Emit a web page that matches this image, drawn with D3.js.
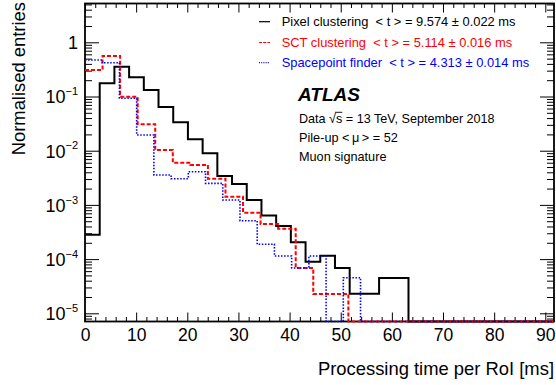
<!DOCTYPE html>
<html>
<head>
<meta charset="utf-8">
<script src="https://cdn.jsdelivr.net/npm/d3@7"></script>
<style>
  html, body { margin: 0; padding: 0; background: #fff; }
  svg text { font-family: "Liberation Sans", Arial, Helvetica, sans-serif; }
</style>
</head>
<body>
<div id="chart"></div>
<script>
// ---------------- data ----------------
const seriesNames = ["Pixel clustering", "SCT clustering", "Spacepoint finder"];
const seriesStats = ["< t > = 9.574 \u00B1 0.022 ms", "< t > = 5.114 \u00B1 0.016 ms", "< t > = 4.313 \u00B1 0.014 ms"];
const seriesColors = ["#000000", "#ff0000", "#0000ff"];
const seriesDash = [null, "4,2", "1.5,1.6"];
// bin widths in ms (each histogram has its own binning)
const binWidths = [2.875, 3.433, 3.367];
// normalised entries per bin, starting at 0 ms
const pixelValues = [2.8e-4, 0.175, 0.355, 0.226, 0.132, 0.064, 0.0334, 0.0162, 0.00895, 0.0034,
                     0.00243, 0.00123, 6.4e-4, 4.1e-4, 2.04e-4, 8.95e-5, 1.15e-4, 6.85e-5, 2.3e-5, 2.3e-5,
                     4.5e-5, 4.5e-5];
const sctValues = [0.308, 0.559, 0.099, 0.0307, 0.0103, 0.0060, 0.00545, 0.00304, 0.00142, 7.2e-4,
                   4.44e-4, 3.64e-4, 6.85e-5, 2.27e-5, 2.27e-5];
const spacepointValues = [0.471, 0.42, 0.0927, 0.0195, 0.00356, 0.00304, 0.0041, 0.0025, 0.00123, 5.1e-4,
                          1.88e-4, 1.14e-4, 6.85e-5, 1.14e-4, 0, 4.54e-5];
const xTickValues = [0, 10, 20, 30, 40, 50, 60, 70, 80, 90];
const yTickExponents = [-5, -4, -3, -2, -1, 0];
const xDomain = [0, 91.7];
const yDomain = [7.06e-6, 5.2];
const xTitle = "Processing time per RoI [ms]";
const yTitle = "Normalised entries";
const dataLine = "Data \u221As = 13 TeV, September 2018";
const infoLines = ["Pile-up <\u2009\u03BC\u2009> = 52", "Muon signature"];

// ---------------- layout ----------------
const W = 556, H = 385;
const L = 85, R = 554, T = 3.5, B = 321.5;
const font = '"Liberation Sans", Arial, Helvetica, sans-serif';

const svg = d3.select("#chart").append("svg").attr("width", W).attr("height", H);

const x = d3.scaleLinear().domain(xDomain).range([L, R]);
const y = d3.scaleLog().domain(yDomain).range([B, T]);

// ---------------- axes ----------------
const xMinor = d3.range(0, xDomain[1], 2).filter(v => v % 10 !== 0);
const yMajor = yTickExponents.map(e => Math.pow(10, e));
const yMinor = [];
for (let e = -6; e <= 0; e++) for (let k = 2; k <= 9; k++) {
  const v = k * Math.pow(10, e);
  if (v > yDomain[0] && v < yDomain[1]) yMinor.push(v);
}

function clean(g) { g.select(".domain").remove(); g.selectAll("line").attr("stroke", "#000").attr("stroke-width", 1); }

// bottom
svg.append("g").attr("transform", `translate(0,${B})`)
  .call(d3.axisBottom(x).tickValues(xTickValues).tickSize(-9).tickPadding(7).tickSizeOuter(0)
        .tickFormat(d3.format("d")))
  .call(clean)
  .call(g => g.selectAll("text").attr("font-size", 17.5).attr("font-family", font).attr("fill", "#000").attr("dy", "0.71em"));
svg.append("g").attr("transform", `translate(0,${B})`)
  .call(d3.axisBottom(x).tickValues(xMinor).tickSize(-4.5).tickFormat("").tickSizeOuter(0)).call(clean);
// top
svg.append("g").attr("transform", `translate(0,${T})`)
  .call(d3.axisTop(x).tickValues(xTickValues).tickSize(-9).tickFormat("").tickSizeOuter(0)).call(clean);
svg.append("g").attr("transform", `translate(0,${T})`)
  .call(d3.axisTop(x).tickValues(xMinor).tickSize(-4.5).tickFormat("").tickSizeOuter(0)).call(clean);
// left
svg.append("g").attr("transform", `translate(${L},0)`)
  .call(d3.axisLeft(y).tickValues(yMajor).tickSize(-14).tickPadding(7).tickSizeOuter(0).tickFormat(() => ""))
  .call(clean)
  .call(g => g.selectAll(".tick text").each(function(d) {
    const t = d3.select(this).attr("font-size", 18).attr("font-family", font).attr("fill", "#000")
      .attr("dy", null).attr("dominant-baseline", null).attr("y", 6.4).attr("x", -7);
    const e = Math.round(Math.log10(d));
    if (e === 0) { t.text("1"); }
    else {
      t.append("tspan").text("10");
      t.append("tspan").attr("font-size", 11).attr("dy", -8.2).text("\u2212" + (-e));
    }
  }));
svg.append("g").attr("transform", `translate(${L},0)`)
  .call(d3.axisLeft(y).tickValues(yMinor).tickSize(-7).tickFormat(() => "").tickSizeOuter(0)).call(clean);
// right
svg.append("g").attr("transform", `translate(${R},0)`)
  .call(d3.axisRight(y).tickValues(yMajor).tickSize(-14).tickFormat(() => "").tickSizeOuter(0)).call(clean);
svg.append("g").attr("transform", `translate(${R},0)`)
  .call(d3.axisRight(y).tickValues(yMinor).tickSize(-7).tickFormat(() => "").tickSizeOuter(0)).call(clean);

// frame
svg.append("rect").attr("x", L).attr("y", T).attr("width", R - L).attr("height", B - T)
  .attr("fill", "none").attr("stroke", "#000").attr("stroke-width", 1.8);

// ---------------- histograms (drawn over the frame) ----------------
const allValues = [pixelValues, sctValues, spacepointValues];
const yv = v => (v > 0 ? y(v) : B);
const line = d3.line().x(d => x(d[0])).y(d => yv(d[1])).curve(d3.curveStepAfter);

allValues.forEach((vals, s) => {
  const w = binWidths[s];
  const pts = vals.map((v, i) => [i * w, v]);
  pts.push([vals.length * w, 0]);
  pts.push([xDomain[1], 0]);
  const p = svg.append("path")
    .attr("d", line(pts))
    .attr("fill", "none")
    .attr("stroke", seriesColors[s])
    .attr("stroke-width", s === 2 ? 1.6 : 2)
    .attr("stroke-linejoin", "miter");
  if (seriesDash[s]) p.attr("stroke-dasharray", seriesDash[s]);
});

// titles
svg.append("text").attr("x", R).attr("y", 375).attr("text-anchor", "end")
  .attr("font-size", 18.4).attr("fill", "#000").text(xTitle);
svg.append("text").attr("transform", "translate(24.5,2) rotate(-90)").attr("text-anchor", "end")
  .attr("font-size", 18.4).attr("fill", "#000").text(yTitle);

// ---------------- legend ----------------
const legY = [21.7, 42.5, 62.7];
seriesNames.forEach((n, i) => {
  const ln = svg.append("line").attr("x1", 259).attr("x2", 270).attr("y1", legY[i]).attr("y2", legY[i])
    .attr("stroke", seriesColors[i]).attr("stroke-width", 1.2);
  if (i === 1) ln.attr("stroke-dasharray", "3,1.2");
  if (i === 2) ln.attr("stroke-dasharray", "1,1.2");
  svg.append("text").attr("x", 281.7).attr("y", legY[i] + 4.6).attr("font-size", 12.9)
    .attr("fill", seriesColors[i]).style("white-space", "pre").text(n + "  " + seriesStats[i]);
});

// ---------------- ATLAS label ----------------
svg.append("text").attr("x", 298).attr("y", 101).attr("font-size", 19).attr("font-weight", "bold")
  .attr("font-style", "italic").attr("fill", "#000").text("ATLAS");
const dt = svg.append("text").attr("x", 299).attr("y", 122.5).attr("font-size", 12.6).attr("fill", "#000")
  .text(dataLine);
// overline of the square root over "s"
try {
  const idx = dataLine.indexOf("\u221A");
  const eR = dt.node().getExtentOfChar(idx);
  const eS = dt.node().getExtentOfChar(idx + 1);
  const oy = 122.5 - 10.2;
  svg.append("line").attr("x1", eR.x + eR.width - 1).attr("x2", eS.x + eS.width)
    .attr("y1", oy).attr("y2", oy).attr("stroke", "#000").attr("stroke-width", 0.9);
} catch (e) {}
infoLines.forEach((t, i) => {
  svg.append("text").attr("x", 299).attr("y", 141.5 + i * 19).attr("font-size", 12.7).attr("fill", "#000").text(t);
});
</script>
</body>
</html>
